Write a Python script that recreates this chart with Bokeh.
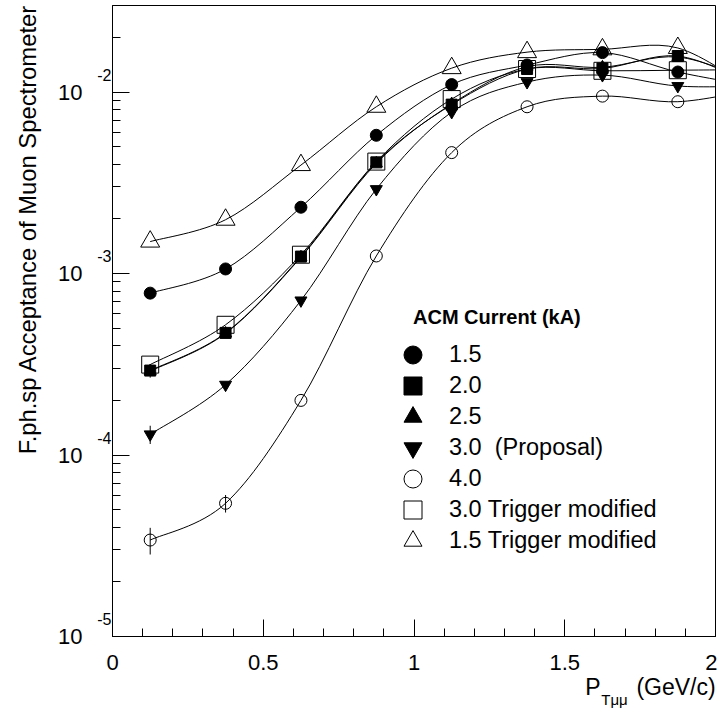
import math
from bokeh.plotting import figure
from bokeh.models import (FixedTicker, Label, Legend, LegendItem, ColumnDataSource,
                          NumeralTickFormatter, CustomJSTickFormatter, LogAxis,
                          LinearAxis, Title)
from bokeh.embed import file_html
from bokeh.resources import INLINE

# ---------------- data ----------------
pt = [0.125, 0.375, 0.625, 0.875, 1.125, 1.375, 1.625, 1.875, 2.125]

acc_15 = [7.8e-4, 1.06e-3, 2.32e-3, 5.78e-3, 1.10e-2, 1.41e-2, 1.65e-2, 1.29e-2, 1.08e-2]
acc_20 = [2.92e-4, 4.71e-4, 1.24e-3, 4.10e-3, 8.53e-3, 1.34e-2, 1.35e-2, 1.58e-2, 1.10e-2]
acc_25 = [2.90e-4, 4.68e-4, 1.23e-3, 4.05e-3, 8.60e-3, 1.38e-2, 1.37e-2, 1.56e-2, 1.15e-2]
acc_30 = [1.30e-4, 2.44e-4, 7.11e-4, 2.92e-3, 7.76e-3, 1.135e-2, 1.24e-2, 1.08e-2, 1.08e-2]
acc_40 = [3.40e-5, 5.42e-5, 2.00e-4, 1.25e-3, 4.64e-3, 8.30e-3, 9.50e-3, 8.85e-3, 1.03e-2]
acc_30t = [3.15e-4, 5.22e-4, 1.27e-3, 4.14e-3, 9.15e-3, 1.34e-2, 1.31e-2, 1.32e-2, 1.33e-2]
acc_15t = [1.50e-3, 1.98e-3, 3.96e-3, 8.30e-3, 1.355e-2, 1.66e-2, 1.72e-2, 1.75e-2, 1.03e-2]

err_20 = [0.25e-4, 0, 0, 0, 0, 0, 0, 0, 0]
err_30 = [0.15e-4, 0, 0, 0, 0, 0, 0, 0, 0]
err_40 = [0.57e-5, 0.60e-5, 0, 0, 0, 0, 0, 0, 0]

series_labels = ["1.5", "2.0", "2.5", "3.0\u00a0\u00a0(Proposal)", "4.0",
                 "3.0 Trigger modified", "1.5 Trigger modified"]
legend_title = "ACM Current (kA)"

x_ticks = [0, 0.5, 1, 1.5, 2]
y_decades = [1e-5, 1e-4, 1e-3, 1e-2]

x_title_parts = ["P", "(GeV/c)"]
x_title_sub = ["T\u03bc\u03bc"]
y_title = "F.ph.sp Acceptance of Muon Spectrometer"

FONT = "Liberation Sans"

# ---------------- figure ----------------
p = figure(width=717, height=710, y_axis_type="log",
           x_range=(0, 2), y_range=(1e-5, 3e-2),
           output_backend="svg", toolbar_location=None,
           min_border_left=112, min_border_right=2,
           min_border_top=5, min_border_bottom=73)
p.grid.visible = False
p.outline_line_color = "black"
p.outline_line_width = 1
p.outline_line_alpha = 1.0
p.background_fill_color = "white"
p.border_fill_color = "white"

p.xaxis.ticker = FixedTicker(ticks=x_ticks,
                             minor_ticks=[round(0.1 * i, 1) for i in range(21)])
p.yaxis.ticker = FixedTicker(ticks=y_decades,
                             minor_ticks=[m * d for d in y_decades for m in range(2, 10)])
p.xaxis.formatter = NumeralTickFormatter(format="0.[0]")
p.yaxis.formatter = CustomJSTickFormatter(code="return ''")
p.yaxis.major_label_standoff = 0

for ax in (p.xaxis[0], p.yaxis[0]):
    ax.major_tick_in = 17
    ax.major_tick_out = 0
    ax.minor_tick_in = 8
    ax.minor_tick_out = 0
    ax.axis_line_color = "black"
    ax.major_tick_line_color = "black"
    ax.minor_tick_line_color = "black"
    ax.major_label_text_font = FONT
    ax.major_label_text_color = "black"

p.xaxis.major_label_text_font_size = "22px"
p.xaxis.major_label_standoff = 18


def text_axis(cls, ticks, formatter, size, standoff):
    ax = cls(ticker=FixedTicker(ticks=ticks, minor_ticks=[]), formatter=formatter)
    ax.axis_line_color = None
    ax.major_tick_line_color = None
    ax.minor_tick_line_color = None
    ax.major_tick_in = 0
    ax.major_tick_out = 0
    ax.minor_tick_in = 0
    ax.minor_tick_out = 0
    ax.major_label_text_font = FONT
    ax.major_label_text_font_size = size
    ax.major_label_text_color = "black"
    ax.major_label_standoff = standoff
    return ax

# y tick labels: exponent (raised) and mantissa "10"
exp_shift = 10 ** (17.5 / 181.8)
p.add_layout(text_axis(LogAxis, [d * exp_shift for d in y_decades],
                       CustomJSTickFormatter(code="return String(Math.floor(Math.log10(tick) + 1e-9))"),
                       "16px", 1), "left")
p.add_layout(text_axis(LogAxis, list(y_decades),
                       CustomJSTickFormatter(code="return '10'"),
                       "22px", 12), "left")

yt = Title(text=y_title, align="right", vertical_align="top", text_font=FONT,
           text_font_size="23.8px", text_font_style="normal", text_color="black",
           standoff=26, offset=-1)
p.add_layout(yt, "left")

# x title pieces
p.add_layout(text_axis(LinearAxis, [1.5937, 1.869],
                       CustomJSTickFormatter(args=dict(labels=x_title_parts),
                                             code="return labels[index]"),
                       "23px", 1), "below")
p.add_layout(text_axis(LinearAxis, [1.665],
                       CustomJSTickFormatter(args=dict(labels=x_title_sub),
                                             code="return labels[index]"),
                       "15px", -12), "below")

# ---------------- curves ----------------
def bezier_source(xs, ys):
    ly = [math.log10(v) for v in ys]
    n = len(xs)
    d = dict(x0=[], y0=[], x1=[], y1=[], cx0=[], cy0=[], cx1=[], cy1=[])
    for i in range(n - 1):
        im = max(i - 1, 0)
        ip = min(i + 2, n - 1)
        d["x0"].append(xs[i]); d["y0"].append(ys[i])
        d["x1"].append(xs[i + 1]); d["y1"].append(ys[i + 1])
        d["cx0"].append(xs[i] + (xs[i + 1] - xs[im]) / 6)
        d["cy0"].append(10 ** (ly[i] + (ly[i + 1] - ly[im]) / 6))
        d["cx1"].append(xs[i + 1] - (xs[ip] - xs[i]) / 6)
        d["cy1"].append(10 ** (ly[i + 1] - (ly[ip] - ly[i]) / 6))
    return ColumnDataSource(d)

all_series = [acc_15, acc_20, acc_25, acc_30, acc_40, acc_30t, acc_15t]
for ys in all_series:
    p.bezier(x0="x0", y0="y0", x1="x1", y1="y1", cx0="cx0", cy0="cy0",
             cx1="cx1", cy1="cy1", source=bezier_source(pt, ys),
             line_color="black", line_width=1)

# error bars
for ys, es in ((acc_20, err_20), (acc_30, err_30), (acc_40, err_40)):
    xs_e = [x for x, e in zip(pt, es) if e > 0]
    lo = [v - e for v, e in zip(ys, es) if e > 0]
    hi = [v + e for v, e in zip(ys, es) if e > 0]
    p.segment(x0=xs_e, y0=lo, x1=xs_e, y1=hi, line_color="black", line_width=1)

styles = [
    dict(marker="circle", size=12, fill_color="black"),
    dict(marker="square", size=11, fill_color="black"),
    dict(marker="triangle", size=12, fill_color="black"),
    dict(marker="inverted_triangle", size=12, fill_color="black"),
    dict(marker="circle", size=12, fill_color=None),
    dict(marker="square", size=17, fill_color=None),
    dict(marker="triangle", size=19, fill_color=None),
]
items = []
for ys, st, lab in zip(all_series, styles, series_labels):
    r = p.scatter(x=pt, y=ys, marker=st["marker"], size=st["size"],
                  fill_color=st["fill_color"], line_color="black", line_width=1)
    items.append(LegendItem(label=lab, renderers=[r]))

common = dict(glyph_width=45, glyph_height=45, spacing=17, label_standoff=14,
              padding=0, margin=0, border_line_color=None, background_fill_alpha=0,
              label_text_font=FONT, label_text_font_size="23.5px",
              label_text_color="black", label_text_baseline="middle")
p.add_layout(Legend(items=items[0::2], location=(278, 73), **common))
p.add_layout(Legend(items=items[1::2], location=(278, 104), **common))

p.add_layout(Label(x=1.0, y=1e-5, x_offset=-1, y_offset=320, text=legend_title,
                   text_font=FONT, text_font_size="20px", text_font_style="bold",
                   text_color="black", text_baseline="middle"))

open("out.html", "w").write(file_html(p, INLINE))
